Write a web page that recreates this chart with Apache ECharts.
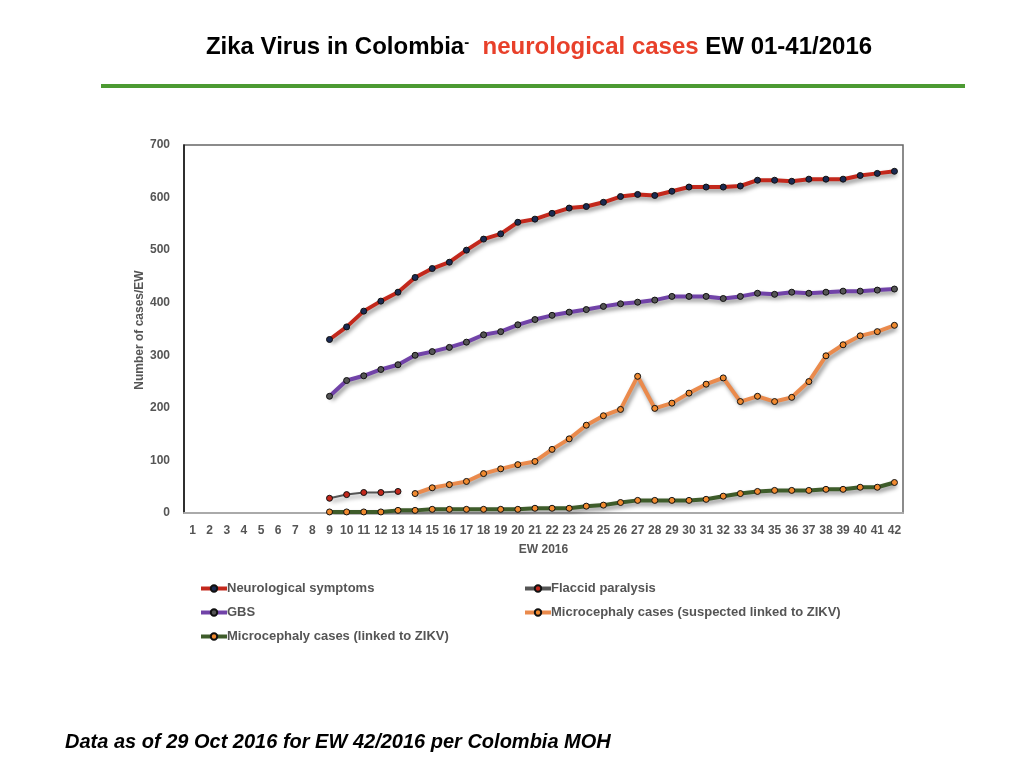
<!DOCTYPE html>
<html>
<head>
<meta charset="utf-8">
<script src="https://cdn.jsdelivr.net/npm/echarts@6/dist/echarts.min.js"></script>
<style>
  html, body { margin: 0; padding: 0; background: #fff; }
  #chart { width: 1024px; height: 768px; }
</style>
</head>
<body>
<div id="chart"></div>
<script>
// EW 1..42
const weeks = [];
for (let i = 1; i <= 42; i++) weeks.push(String(i));

const yTicks = [0, 100, 200, 300, 400, 500, 600, 700];

// values read from weeks 9..42 (weeks 1-8 empty)
const neuroVals = [330, 354, 384, 403, 420, 448, 465, 477, 500, 521, 531, 553, 559, 570,
  580, 583, 591, 602, 606, 604, 612, 620, 620, 620, 622, 633, 633, 631, 635, 635, 635, 642, 646, 650];
const gbsVals = [222, 252, 261, 273, 282, 300, 307, 315, 325, 339, 345, 358, 368, 376,
  382, 387, 393, 398, 401, 405, 412, 412, 412, 408, 412, 418, 416, 420, 418, 420, 422, 422, 424, 426];
// weeks 9..13
const flaccidVals = [28, 35, 39, 39, 41];
// weeks 14..42
const microSuspVals = [37, 48, 54, 60, 75, 84, 92, 98, 121, 141, 167, 185, 197, 260, 199,
  209, 228, 245, 257, 212, 222, 212, 220, 250, 299, 320, 337, 345, 357];
// weeks 9..42
const microLinkVals = [2, 2, 2, 2, 5, 5, 7, 7, 7, 7, 7, 7, 9, 9,
  9, 13, 15, 20, 24, 24, 24, 24, 26, 32, 37, 41, 43, 43, 43, 45, 45, 49, 49, 58];

function place(vals, startWeek) {
  const out = weeks.map(() => null);
  vals.forEach((v, i) => { out[startWeek - 1 + i] = v; });
  return out;
}

const shadow = { shadowColor: 'rgba(0,0,0,0.45)', shadowBlur: 4, shadowOffsetX: 2, shadowOffsetY: 3 };

function lineSeries(name, data, lineColor, dotColor, width) {
  return {
    name: name,
    type: 'line',
    data: data,
    symbol: 'circle',
    symbolSize: 6,
    showAllSymbol: true,
    connectNulls: false,
    lineStyle: Object.assign({ color: lineColor, width: width }, shadow),
    itemStyle: { color: dotColor, borderColor: '#111', borderWidth: 1 },
    emphasis: { disabled: true },
    z: 3
  };
}

const labelFont = { color: '#555', fontWeight: 'bold', fontSize: 12, fontFamily: 'Liberation Sans' };
const legendText = { color: '#555', fontWeight: 'bold', fontSize: 13, fontFamily: 'Liberation Sans', padding: [0, 0, 0, -5] };

const chart = echarts.init(document.getElementById('chart'));
chart.setOption({
  animation: false,
  backgroundColor: '#fff',
  title: {
    left: 534, top: 30, textAlign: 'center',
    text: '{b|Zika Virus in Colombia}{d|-}{b|  }{r|neurological cases}{b| EW 01-41/2016}',
    textStyle: {
      rich: {
        b: { fontSize: 24, fontWeight: 'bold', color: '#000', fontFamily: 'Liberation Sans' },
        d: { fontSize: 15, fontWeight: 'bold', color: '#000', fontFamily: 'Liberation Sans', verticalAlign: 'top', padding: [0, 0, 10, 0] },
        r: { fontSize: 24, fontWeight: 'bold', color: '#e8402a', fontFamily: 'Liberation Sans' }
      }
    }
  },
  graphic: [
    { type: 'rect', shape: { x: 101, y: 84, width: 864, height: 4 }, style: { fill: '#4c9a32' } },
    {
      type: 'text', x: 140, y: 330, rotation: Math.PI / 2,
      style: { text: 'Number of cases/EW', fill: '#555', align: 'center', verticalAlign: 'middle',
        font: 'bold 12px "Liberation Sans"' }
    },
    {
      type: 'text', left: 65, top: 732,
      style: { text: 'Data as of 29 Oct 2016 for EW 42/2016 per Colombia MOH', fill: '#000',
        font: 'italic bold 20px "Liberation Sans"' }
    }
  ],
  grid: { left: 184, right: 121, top: 145, bottom: 255, show: true, borderColor: '#666', borderWidth: 1.5 },
  legend: [
    {
      orient: 'vertical', left: 194, top: 577, itemGap: 11, itemWidth: 26, itemHeight: 8,
      lineStyle: { width: 4 },
      data: ['Neurological symptoms', 'GBS', 'Microcephaly cases (linked to ZIKV)'],
      textStyle: legendText
    },
    {
      orient: 'vertical', left: 518, top: 577, itemGap: 11, itemWidth: 26, itemHeight: 8,
      lineStyle: { width: 4 },
      data: ['Flaccid paralysis', 'Microcephaly cases (suspected linked to ZIKV)'],
      textStyle: legendText
    }
  ],
  xAxis: {
    type: 'category',
    data: weeks,
    boundaryGap: true,
    name: 'EW 2016',
    nameLocation: 'middle',
    nameGap: 31,
    nameTextStyle: labelFont,
    axisLine: { lineStyle: { color: '#aaa', width: 2 } },
    axisTick: { show: false },
    axisLabel: Object.assign({ interval: 0, margin: 12 }, labelFont),
    splitLine: { show: false }
  },
  yAxis: {
    type: 'value',
    min: yTicks[0],
    max: yTicks[yTicks.length - 1],
    interval: 100,
    axisLine: { show: true, lineStyle: { color: '#111', width: 1.5 } },
    axisTick: { show: false },
    axisLabel: Object.assign({ margin: 14 }, labelFont),
    splitLine: { show: false }
  },
  series: [
    lineSeries('Neurological symptoms', place(neuroVals, 9), '#c3281c', '#1b2a52', 4),
    lineSeries('Flaccid paralysis', place(flaccidVals, 9), '#555555', '#c3281c', 2),
    lineSeries('GBS', place(gbsVals, 9), '#7143a8', '#555555', 4),
    lineSeries('Microcephaly cases (suspected linked to ZIKV)', place(microSuspVals, 14), '#ea8a4c', '#f08a30', 4),
    lineSeries('Microcephaly cases (linked to ZIKV)', place(microLinkVals, 9), '#3e5c2a', '#f08a30', 4)
  ]
});
</script>
</body>
</html>
